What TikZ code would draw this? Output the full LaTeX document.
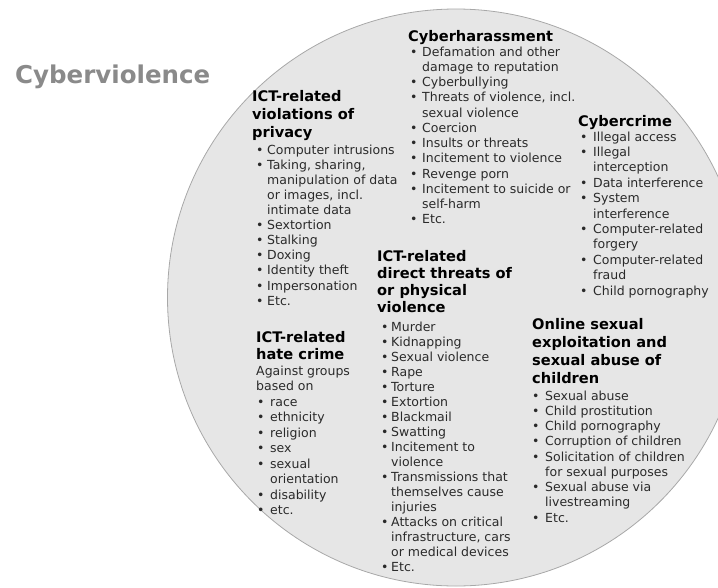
\documentclass[tikz,border=0pt]{standalone}
\usepackage{fontspec}
\setmainfont{DejaVu Sans}
\definecolor{discfill}{HTML}{E6E6E6}
\definecolor{discline}{HTML}{A8A8A8}
\definecolor{titlegrey}{HTML}{8A8A8A}
\definecolor{itemtext}{HTML}{2A2A2A}
\newlength\bulo
\newlength\texo
\newcommand\hdfont{\fontsize{14.6}{17.7}\selectfont\bfseries\color{black}}
\newcommand\hdl[1]{\hbox{\hdfont #1}}
\newcommand\bitem[1]{\hbox{\hspace*{\bulo}\makebox[0pt][l]{•}\hspace*{\dimexpr\texo-\bulo\relax}#1}}
\newcommand\citem[1]{\hbox{\hspace*{\texo}#1}}
\newcommand\pline[1]{\hbox{#1}}
\begin{document}
\begin{tikzpicture}[x=1pt,y=-1pt,
  txt/.style={inner sep=0pt, anchor=base west, text=itemtext,
    font=\fontsize{12.5}{15.2}\selectfont}]
\useasboundingbox (0,0) rectangle (718,587);
\begin{scope}
  \clip (0,0) rectangle (718,587);
  \filldraw[fill=discfill, draw=discline, line width=0.8pt] (456,297.5) circle [radius=288.5pt];
\end{scope}

\node[inner sep=0pt, anchor=base west, text=titlegrey,
  font=\fontsize{24.5}{24.5}\selectfont\bfseries] (title) at (15,83) {Cyberviolence};

% Cyberharassment
\node[txt] (harass) at (408,41) {\vtop{\setlength\bulo{2pt}\setlength\texo{14pt}%
  \baselineskip=17.7pt
  \hdl{Cyberharassment}
  \baselineskip=15pt \bitem{Defamation and other}
  \baselineskip=15.27pt
  \citem{damage to reputation}
  \bitem{Cyberbullying}
  \bitem{Threats of violence, incl.}
  \citem{sexual violence}
  \bitem{Coercion}
  \bitem{Insults or threats}
  \bitem{Incitement to violence}
  \bitem{Revenge porn}
  \bitem{Incitement to suicide or}
  \citem{self-harm}
  \bitem{Etc.}}};

% Cybercrime
\node[txt] (crime) at (578,126) {\vtop{\setlength\bulo{2pt}\setlength\texo{15pt}%
  \baselineskip=17.7pt
  \hdl{Cybercrime}
  \baselineskip=15pt \bitem{Illegal access}
  \baselineskip=15.4pt
  \bitem{Illegal}
  \citem{interception}
  \bitem{Data interference}
  \bitem{System}
  \citem{interference}
  \bitem{Computer-related}
  \citem{forgery}
  \bitem{Computer-related}
  \citem{fraud}
  \bitem{Child pornography}}};

% ICT-related violations of privacy
\node[txt] (privacy) at (252,101.7) {\vtop{\setlength\bulo{4pt}\setlength\texo{15pt}%
  \baselineskip=17.7pt
  \hdl{ICT-related}
  \hdl{violations of}
  \hdl{privacy}
  \baselineskip=17pt \bitem{Computer intrusions}
  \baselineskip=15.1pt
  \bitem{Taking, sharing,}
  \citem{manipulation of data}
  \citem{or images, incl.}
  \citem{intimate data}
  \bitem{Sextortion}
  \bitem{Stalking}
  \bitem{Doxing}
  \bitem{Identity theft}
  \bitem{Impersonation}
  \bitem{Etc.}}};

% ICT-related direct threats
\node[txt] (threats) at (377,261) {\vtop{\setlength\bulo{4pt}\setlength\texo{14pt}%
  \baselineskip=17pt
  \hdl{ICT-related}
  \hdl{direct threats of}
  \hdl{or physical}
  \hdl{violence}
  \baselineskip=19pt \bitem{Murder}
  \baselineskip=15pt
  \bitem{Kidnapping}
  \bitem{Sexual violence}
  \bitem{Rape}
  \bitem{Torture}
  \bitem{Extortion}
  \bitem{Blackmail}
  \bitem{Swatting}
  \bitem{Incitement to}
  \citem{violence}
  \bitem{Transmissions that}
  \citem{themselves cause}
  \citem{injuries}
  \bitem{Attacks on critical}
  \citem{infrastructure, cars}
  \citem{or medical devices}
  \bitem{Etc.}}};

% ICT-related hate crime
\node[txt] (hate) at (256,342) {\vtop{\setlength\bulo{1pt}\setlength\texo{14pt}%
  \baselineskip=17pt
  \hdl{ICT-related}
  \hdl{hate crime}
  \baselineskip=16pt \pline{Against groups}
  \baselineskip=15.55pt
  \pline{based on}
  \bitem{race}
  \bitem{ethnicity}
  \bitem{religion}
  \bitem{sex}
  \bitem{sexual}
  \citem{orientation}
  \bitem{disability}
  \bitem{etc.}}};

% Online sexual exploitation
\node[txt] (sexual) at (532,329) {\vtop{\setlength\bulo{0pt}\setlength\texo{13pt}%
  \baselineskip=18pt
  \hdl{Online sexual}
  \hdl{exploitation and}
  \hdl{sexual abuse of}
  \hdl{children}
  \baselineskip=17pt \bitem{Sexual abuse}
  \baselineskip=15.25pt
  \bitem{Child prostitution}
  \bitem{Child pornography}
  \bitem{Corruption of children}
  \bitem{Solicitation of children}
  \citem{for sexual purposes}
  \bitem{Sexual abuse via}
  \citem{livestreaming}
  \bitem{Etc.}}};
\end{tikzpicture}
\end{document}
